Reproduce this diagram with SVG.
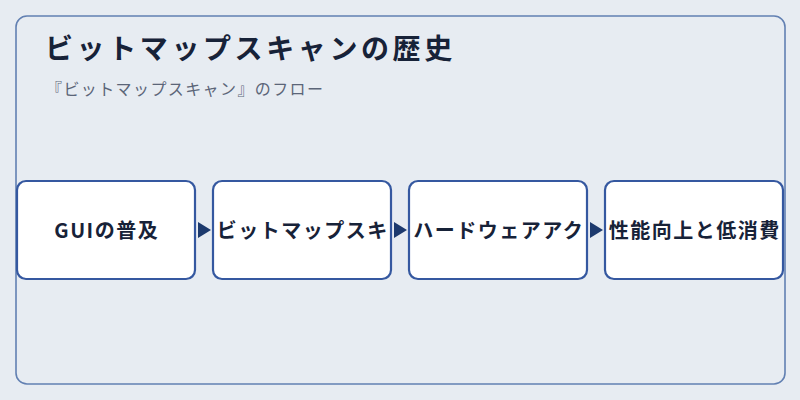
<svg xmlns="http://www.w3.org/2000/svg" width="800" height="400" viewBox="0 0 800 400">
<defs>
<style>
.bg{fill:#e7ecf2}
.frame{fill:none;stroke:#6280b2;stroke-width:1.6}
.title{font-family:"Noto Sans CJK JP","Noto Sans",sans-serif;font-weight:700;font-size:28px;letter-spacing:3.6px;fill:#172238}
.sub{font-family:"Noto Sans CJK JP","Noto Sans",sans-serif;font-size:16px;letter-spacing:1.4px;fill:#5b6578}
.box{fill:#ffffff;stroke:#3558a0;stroke-width:2.2}
.label{font-family:"Noto Sans CJK JP","Noto Sans",sans-serif;font-weight:700;font-size:20px;letter-spacing:1.5px;fill:#172238;text-anchor:middle}
.arrow{fill:#1d3a6e}
</style>
</defs>
<rect class="bg" x="0" y="0" width="800" height="400"/>
<rect class="frame" x="16" y="16" width="769" height="368" rx="11"/>
<text class="title" x="45" y="59">ビットマップスキャンの歴史</text>
<text class="sub" x="46" y="95">『ビットマップスキャン』のフロー</text>
<g id="connectors">
<polygon class="arrow" points="198,222 211,230 198,238"/>
<polygon class="arrow" points="394,222 407,230 394,238"/>
<polygon class="arrow" points="590,222 603,230 590,238"/>
</g>
<g id="node1">
<rect class="box" x="17" y="181" width="178" height="98" rx="9"/>
<text class="label" x="106.75" y="238">GUIの普及</text>
</g>
<g id="node2">
<rect class="box" x="213" y="181" width="178" height="98" rx="9"/>
<text class="label" x="302.75" y="238">ビットマップスキ</text>
</g>
<g id="node3">
<rect class="box" x="409" y="181" width="178" height="98" rx="9"/>
<text class="label" x="498.75" y="238">ハードウェアアク</text>
</g>
<g id="node4">
<rect class="box" x="605" y="181" width="178" height="98" rx="9"/>
<text class="label" x="694.75" y="238">性能向上と低消費</text>
</g>
</svg>
